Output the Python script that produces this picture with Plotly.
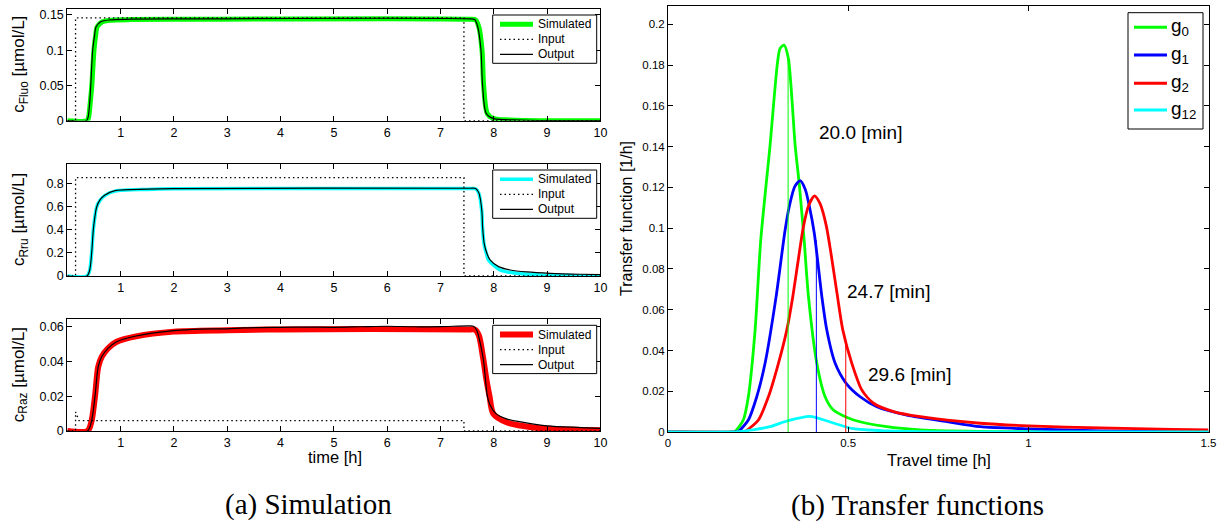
import plotly.graph_objects as go

W, H = 1223, 523

# ---------------- Data: left panels (time in hours) ----------------
t_fluo_sim = [0, 0.37, 0.40, 0.43, 0.46, 0.50, 0.53, 0.56, 0.65, 0.80, 1.2, 2.0, 7.55, 7.66, 7.72, 7.78, 7.81, 7.88, 8.0, 8.3, 9.0, 10]
c_fluo_sim = [0, 0, 0.005, 0.025, 0.05, 0.10, 0.12, 0.133, 0.140, 0.1425, 0.1435, 0.144, 0.144, 0.143, 0.133, 0.10, 0.05, 0.01, 0.003, 0.001, 0, 0]
t_fluo_in = [0, 0.155, 0.155, 7.44, 7.44, 10]
c_fluo_in = [0, 0, 0.146, 0.146, 0, 0]
t_fluo_out = [0, 0.36, 0.39, 0.42, 0.44, 0.476, 0.51, 0.54, 0.627, 0.8, 1.2, 2.0, 7.55, 7.64, 7.70, 7.76, 7.79, 7.86, 8.0, 8.5, 9.5, 10]
c_fluo_out = [0, 0, 0.005, 0.025, 0.05, 0.10, 0.12, 0.1334, 0.1405, 0.143, 0.144, 0.1445, 0.1445, 0.1435, 0.133, 0.10, 0.05, 0.01, 0.003, 0.001, 0, 0]

t_rru_sim = [0, 0.37, 0.42, 0.457, 0.488, 0.52, 0.551, 0.613, 0.707, 0.895, 1.5, 2.0, 7.55, 7.66, 7.72, 7.775, 7.79, 7.82, 7.87, 7.90, 8.12, 8.43, 8.87, 9.5, 10]
c_rru_sim = [0, 0, 0.05, 0.2, 0.4, 0.52, 0.598, 0.655, 0.698, 0.735, 0.75, 0.755, 0.757, 0.755, 0.715, 0.56, 0.41, 0.27, 0.18, 0.139, 0.052, 0.023, 0.009, 0.003, 0.001]
t_rru_in = [0, 0.155, 0.155, 7.44, 7.44, 10]
c_rru_in = [0, 0, 0.852, 0.852, 0, 0]
t_rru_out = [0, 0.37, 0.42, 0.457, 0.488, 0.52, 0.551, 0.613, 0.707, 0.895, 1.5, 2.0, 7.55, 7.66, 7.72, 7.775, 7.79, 7.82, 7.87, 7.93, 8.09, 8.31, 8.62, 9.06, 9.62, 10]
c_rru_out = [0, 0, 0.05, 0.2, 0.4, 0.52, 0.598, 0.659, 0.702, 0.739, 0.752, 0.757, 0.76, 0.758, 0.72, 0.572, 0.427, 0.283, 0.197, 0.139, 0.081, 0.052, 0.035, 0.023, 0.015, 0.012]

t_raz_sim = [0, 0.38, 0.45, 0.52, 0.58, 0.645, 0.764, 0.926, 1.29, 2.0, 3.0, 4.0, 7.55, 7.65, 7.72, 7.80, 7.86, 7.92, 7.99, 8.24, 8.74, 9.18, 10]
c_raz_sim = [0, 0, 0.005, 0.0201, 0.037, 0.0427, 0.0476, 0.0514, 0.0545, 0.0572, 0.058, 0.0585, 0.0585, 0.0583, 0.055, 0.042, 0.03, 0.02, 0.01, 0.005, 0.002, 0.001, 0.0005]
t_raz_in = [0, 0.155, 0.155, 0.22, 7.44, 7.44, 10]
c_raz_in = [0, 0, 0.011, 0.006, 0.006, 0, 0]
t_raz_out = [0, 0.38, 0.45, 0.52, 0.58, 0.645, 0.764, 0.926, 1.29, 2.0, 2.5, 3.0, 3.3, 4.0, 4.5, 5.0, 5.5, 6.0, 6.5, 7.0, 7.55, 7.62, 7.68, 7.75, 7.81, 7.88, 7.93, 8.04, 8.24, 8.56, 9.0, 9.62, 10]
c_raz_out = [0, 0, 0.005, 0.0201, 0.037, 0.0427, 0.0476, 0.0514, 0.0547, 0.0578, 0.0587, 0.0588, 0.0594, 0.0597, 0.0598, 0.0597, 0.06, 0.0603, 0.06, 0.0601, 0.0605, 0.0603, 0.058, 0.05, 0.04, 0.02, 0.015, 0.01, 0.007, 0.005, 0.003, 0.002, 0.0015]

left_xticks = [1, 2, 3, 4, 5, 6, 7, 8, 9, 10]
legend_names = ["Simulated", "Input", "Output"]

# ---------------- Data: right panel (travel time in hours) ----------------
x_g0 = [0, 0.18, 0.186, 0.209, 0.223, 0.2417, 0.2574, 0.2833, 0.3037, 0.311, 0.322, 0.334, 0.3528, 0.3648, 0.3778, 0.3898, 0.413, 0.436, 0.459, 0.515, 0.607, 0.70, 0.90, 1.5]
g0 = [0, 0, 0.0002, 0.0059, 0.0173, 0.050, 0.0942, 0.1408, 0.181, 0.1882, 0.1898, 0.1833, 0.1408, 0.1207, 0.0942, 0.0664, 0.0337, 0.0173, 0.0108, 0.0059, 0.0026, 0.001, 0.0002, 0]
x_g1 = [0, 0.19, 0.195, 0.223, 0.2463, 0.2694, 0.30, 0.325, 0.337, 0.352, 0.3667, 0.381, 0.3926, 0.406, 0.427, 0.4407, 0.4639, 0.4944, 0.5333, 0.5796, 0.663, 0.774, 0.8667, 1.0, 1.2, 1.4, 1.5]
g1 = [0, 0, 0.0002, 0.0059, 0.0173, 0.0337, 0.0664, 0.0991, 0.111, 0.1205, 0.1233, 0.119, 0.1105, 0.0975, 0.0664, 0.050, 0.0337, 0.0239, 0.0173, 0.0124, 0.0083, 0.0051, 0.0026, 0.0015, 0.0006, 0.0002, 0.0001]
x_g2 = [0, 0.21, 0.2139, 0.2509, 0.2787, 0.3065, 0.3296, 0.3463, 0.362, 0.375, 0.39, 0.4065, 0.422, 0.4389, 0.452, 0.4704, 0.4852, 0.5102, 0.538, 0.5704, 0.626, 0.70, 0.8667, 1.0, 1.2, 1.4, 1.5]
g2 = [0, 0, 0.0002, 0.0059, 0.0173, 0.0337, 0.050, 0.0664, 0.085, 0.100, 0.111, 0.1158, 0.112, 0.1015, 0.088, 0.0664, 0.050, 0.0337, 0.0206, 0.0141, 0.010, 0.0075, 0.0043, 0.003, 0.002, 0.0013, 0.001]
x_g12 = [0, 0.19, 0.237, 0.283, 0.33, 0.394, 0.45, 0.514, 0.61, 0.75, 1.5]
g12 = [0, 0, 0.0011, 0.0026, 0.0054, 0.0077, 0.0049, 0.0016, 0.0005, 0.0001, 0]
g_names = ["g<sub>0</sub>", "g<sub>1</sub>", "g<sub>2</sub>", "g<sub>12</sub>"]

mean_times = [0.3333, 0.4117, 0.4933]          # 20.0, 24.7, 29.6 min
mean_heights = [0.1835, 0.094, 0.044]
mean_labels = ["20.0 [min]", "24.7 [min]", "29.6 [min]"]
label_x = [0.4147, 0.4917, 0.55]
label_y = [0.147, 0.0688, 0.028]

GREEN, BLUE, RED, CYAN = "#00ff00", "#0000ff", "#ff0000", "#00ffff"
FONT = "Liberation Sans, Arial, Helvetica, sans-serif"
SERIF = "Liberation Serif, Times New Roman, serif"
INPUT_DASH = "1.5px,3px"


def px_x(p):
    return p / W


def px_y(p):
    return 1 - p / H


fig = go.Figure()

panels = [
    ("x", "y", t_fluo_sim, c_fluo_sim, t_fluo_in, c_fluo_in, t_fluo_out, c_fluo_out, GREEN, 5),
    ("x2", "y2", t_rru_sim, c_rru_sim, t_rru_in, c_rru_in, t_rru_out, c_rru_out, CYAN, 3.5),
    ("x3", "y3", t_raz_sim, c_raz_sim, t_raz_in, c_raz_in, t_raz_out, c_raz_out, RED, 6),
]
for xa, ya, ts, cs, ti, ci, to, co, col, lw in panels:
    fig.add_trace(go.Scatter(x=ts, y=cs, mode="lines", name="Simulated", xaxis=xa, yaxis=ya,
                             showlegend=False, line=dict(color=col, width=lw, shape="spline", smoothing=0.8)))
    fig.add_trace(go.Scatter(x=ti, y=ci, mode="lines", name="Input", xaxis=xa, yaxis=ya,
                             showlegend=False, line=dict(color="black", width=1.3, dash=INPUT_DASH)))
    fig.add_trace(go.Scatter(x=to, y=co, mode="lines", name="Output", xaxis=xa, yaxis=ya,
                             showlegend=False, line=dict(color="black", width=1.2, shape="spline", smoothing=0.8)))

g_colors = [GREEN, BLUE, RED, CYAN]
for xs, ys, nm, col in zip([x_g0, x_g1, x_g2, x_g12], [g0, g1, g2, g12], g_names, g_colors):
    fig.add_trace(go.Scatter(x=xs, y=ys, mode="lines", name=nm, xaxis="x4", yaxis="y4",
                             showlegend=False, line=dict(color=col, width=2.8, shape="spline", smoothing=0.7)))

for m, h, col in zip(mean_times, mean_heights, [GREEN, BLUE, RED]):
    fig.add_trace(go.Scatter(x=[m, m], y=[0, h], mode="lines", showlegend=False,
                             xaxis="x4", yaxis="y4", line=dict(color=col, width=1)))

axis_common = dict(showline=True, linecolor="black", linewidth=1, mirror="ticks",
                   ticks="inside", ticklen=5, tickcolor="black", showgrid=False, automargin=False,
                   zeroline=False, tickfont=dict(family=FONT, size=12.5, color="black"))

left_x = [px_x(67.3), px_x(600.4)]
left_rows = [(9, 120.7, 0.1585, 0.05), (164, 276, 0.97, 0.2), (319.3, 431, 0.0643, 0.02)]
layout_axes = {}
for i, (top, bot, ymax, dt) in enumerate(left_rows):
    sx = "" if i == 0 else str(i + 1)
    layout_axes["xaxis" + sx] = dict(axis_common, domain=left_x, range=[0, 10], tickvals=left_xticks,
                                     anchor="y" + sx)
    layout_axes["yaxis" + sx] = dict(axis_common, domain=[px_y(bot), px_y(top)], range=[0, ymax],
                                     dtick=dt, tick0=0, anchor="x" + sx)

right_tick = dict(axis_common, tickfont=dict(family=FONT, size=11.5, color="black"))
layout_axes["xaxis4"] = dict(right_tick, domain=[px_x(668), px_x(1208.5)], range=[0, 1.5],
                             dtick=0.5, tick0=0, anchor="y4")
layout_axes["yaxis4"] = dict(right_tick, domain=[px_y(432), px_y(6)], range=[0, 0.209],
                             dtick=0.02, tick0=0, anchor="x4")

# ---- compact MATLAB-like legend boxes ----
shapes = []
annotations = []


def add_legend(box, rows, names, styles, line_x, text_x, size):
    x0, x1, y0, y1 = box
    shapes.append(dict(type="rect", xref="paper", yref="paper", x0=px_x(x0), x1=px_x(x1),
                       y0=px_y(y1), y1=px_y(y0), line=dict(color="black", width=1),
                       fillcolor="white", layer="above"))
    for yy, nm, st in zip(rows, names, styles):
        shapes.append(dict(type="line", xref="paper", yref="paper", x0=px_x(line_x[0]), x1=px_x(line_x[1]),
                           y0=px_y(yy), y1=px_y(yy), line=st, layer="above"))
        annotations.append(dict(text=nm, xref="paper", yref="paper", x=px_x(text_x), y=px_y(yy),
                                xanchor="left", yanchor="middle", showarrow=False,
                                font=dict(family=FONT, size=size, color="black")))


sim_styles = [(GREEN, 5), (CYAN, 3.5), (RED, 6)]
for (top, bot, _, _), (scol, swidth) in zip(left_rows, sim_styles):
    lt = top + 6
    styles = [dict(color=scol, width=swidth), dict(color="black", width=1.3, dash=INPUT_DASH),
              dict(color="black", width=1.2)]
    add_legend((492.7, 596.7, lt, lt + 48.3), [lt + 9.3 + 15 * k for k in range(3)],
               legend_names, styles, (500, 533), 536, 12)

add_legend((1128, 1203, 12.7, 129), [27.3, 55, 83.3, 110], g_names,
           [dict(color=c, width=3) for c in g_colors], (1134, 1167), 1169, 19)

ylabels = ["c<sub>Fluo</sub> [µmol/L]", "c<sub>Rru</sub> [µmol/L]", "c<sub>Raz</sub> [µmol/L]"]
for lbl, (top, bot, _, _) in zip(ylabels, left_rows):
    annotations.append(dict(text=lbl, xref="paper", yref="paper", x=px_x(20), y=px_y((top + bot) / 2),
                            textangle=-90, showarrow=False, xanchor="center", yanchor="middle",
                            font=dict(family=FONT, size=17, color="black")))
annotations.append(dict(text="Transfer function [1/h]", xref="paper", yref="paper", x=px_x(626),
                        y=px_y(219), textangle=-90, showarrow=False, xanchor="center", yanchor="middle",
                        font=dict(family=FONT, size=16, color="black")))
annotations.append(dict(text="time [h]", xref="paper", yref="paper", x=px_x(334.5), y=px_y(457.3),
                        showarrow=False, xanchor="center", yanchor="middle",
                        font=dict(family=FONT, size=16.5, color="black")))
annotations.append(dict(text="Travel time [h]", xref="paper", yref="paper", x=px_x(939), y=px_y(460),
                        showarrow=False, xanchor="center", yanchor="middle",
                        font=dict(family=FONT, size=16.5, color="black")))
annotations.append(dict(text="(a) Simulation", xref="paper", yref="paper", x=px_x(308), y=px_y(504),
                        showarrow=False, xanchor="center", yanchor="middle",
                        font=dict(family=SERIF, size=29, color="black")))
annotations.append(dict(text="(b) Transfer functions", xref="paper", yref="paper", x=px_x(917), y=px_y(505),
                        showarrow=False, xanchor="center", yanchor="middle",
                        font=dict(family=SERIF, size=29, color="black")))
for txt, lx, ly in zip(mean_labels, label_x, label_y):
    annotations.append(dict(text=txt, xref="x4", yref="y4", x=lx, y=ly, showarrow=False,
                            xanchor="left", yanchor="middle",
                            font=dict(family=FONT, size=19, color="black")))

fig.update_layout(
    width=W, height=H,
    margin=dict(l=0, r=0, t=0, b=0, autoexpand=False),
    paper_bgcolor="white", plot_bgcolor="white",
    font=dict(family=FONT, color="black"),
    showlegend=False,
    shapes=shapes,
    annotations=annotations,
    **layout_axes,
)

fig.write_html("out.html", config={"displayModeBar": False},
               post_script="document.body.style.margin='0px';")
